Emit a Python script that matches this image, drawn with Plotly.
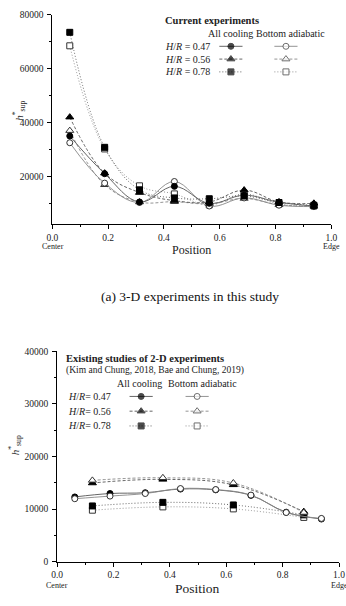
import plotly.graph_objects as go

W, H = 346, 606

# ---------------- data: 3-D experiments (top) ----------------
x3d = [0.0625, 0.1875, 0.3125, 0.4375, 0.5625, 0.6875, 0.8125, 0.9375]
ac_047 = [35000, 21000, 10500, 16300, 10000, 13000, 10400, 9000]
ac_056 = [42000, 21200, 14000, 11000, 10500, 14900, 10500, 10000]
ac_078 = [73500, 30800, 15000, 12000, 11700, 12700, 10300, 9300]
ba_047 = [32500, 17500, 10300, 18100, 9000, 12000, 9300, 8800]
ba_056 = [37000, 16900, 10500, 10600, 9800, 11800, 9500, 8900]
ba_078 = [68500, 30200, 16500, 13500, 9400, 13500, 9700, 9000]

# ---------------- data: 2-D experiments (bottom) ----------------
x2d_47 = [0.0625, 0.1875, 0.3125, 0.4375, 0.5625, 0.6875, 0.8125, 0.9375]
ac47_2d = [12300, 12950, 13100, 13800, 13650, 12600, 9400, 8100]
ba47_2d = [11960, 12460, 12950, 13890, 13700, 12650, 9340, 8220]
x2d_oth = [0.125, 0.375, 0.625, 0.875]
ac56_2d = [14950, 15640, 14600, 9500]
ba56_2d = [15450, 15940, 14950, 9340]
ac78_2d = [10590, 11270, 10780, 8900]
ba78_2d = [9780, 10410, 10030, 8410]

x_ticks = [0, 0.2, 0.4, 0.6, 0.8, 1.0]
x_ticktext = ["0.0", "0.2", "0.4", "0.6", "0.8", "1.0"]
y_ticks_top = [20000, 40000, 60000, 80000]
y_ticks_bot = [0, 10000, 20000, 30000, 40000]

SERIF = "Liberation Serif, Times New Roman, serif"
DASH = {"0.47": "solid", "0.56": "3px,2px", "0.78": "1px,2px"}
SYM = {"0.47": "circle", "0.56": "triangle-up", "0.78": "square"}
MSIZE = {"0.47": 6, "0.56": 7, "0.78": 6}
LC_FILL = "#555555"
LC_OPEN = "#888888"

def px(x):
    return x / W

def py(y):
    return 1 - y / H

fig = go.Figure()

def add_series(x, y, hr, filled, xa, ya):
    fig.add_trace(go.Scatter(
        x=x, y=y, mode="lines+markers", xaxis=xa, yaxis=ya,
        line=dict(color=LC_FILL if filled else LC_OPEN, width=0.9,
                  dash=DASH[hr], shape="spline", smoothing=1.1),
        marker=dict(symbol=SYM[hr], size=MSIZE[hr],
                    color="black" if filled else "white",
                    line=dict(color="black" if filled else "#333333", width=1)),
        showlegend=False, hoverinfo="skip"))

# top
add_series(x3d, ba_078, "0.78", False, "x", "y")
add_series(x3d, ba_056, "0.56", False, "x", "y")
add_series(x3d, ba_047, "0.47", False, "x", "y")
add_series(x3d, ac_078, "0.78", True, "x", "y")
add_series(x3d, ac_056, "0.56", True, "x", "y")
add_series(x3d, ac_047, "0.47", True, "x", "y")
# bottom
add_series(x2d_oth, ba78_2d, "0.78", False, "x2", "y2")
add_series(x2d_oth, ac78_2d, "0.78", True, "x2", "y2")
add_series(x2d_oth, ac56_2d, "0.56", True, "x2", "y2")
add_series(x2d_oth, ba56_2d, "0.56", False, "x2", "y2")
add_series(x2d_47, ac47_2d, "0.47", True, "x2", "y2")
add_series(x2d_47, ba47_2d, "0.47", False, "x2", "y2")

# ---------------- legend keys (layout decoration on a pixel overlay axis) ----------------
def legend_key(cx, cy, hr, filled, half=12):
    fig.add_trace(go.Scatter(
        x=[cx - half, cx, cx + half], y=[cy, cy, cy], mode="lines+markers",
        xaxis="x3", yaxis="y3",
        line=dict(color=LC_FILL if filled else LC_OPEN, width=0.9, dash=DASH[hr]),
        marker=dict(symbol=SYM[hr], size=[0, MSIZE[hr], 0],
                    color="black" if filled else "white",
                    line=dict(color="black" if filled else "#333333", width=[0, 1, 0])),
        showlegend=False, hoverinfo="skip"))

rows_top = [("0.47", 42), ("0.56", 55), ("0.78", 68)]
for hr, yy in rows_top:
    legend_key(233, yy, hr, True)
    legend_key(290, yy, hr, False)
rows_bot = [("0.47", 398), ("0.56", 413), ("0.78", 428)]
for hr, yy in rows_bot:
    legend_key(140, yy, hr, True)
    legend_key(198, yy, hr, False)

ann = []
def text(x, y, s, size=11, xanchor="left", bold=False, angle=0, color="#222222"):
    if bold:
        s = "<b>" + s + "</b>"
    ann.append(dict(x=px(x), y=py(y), xref="paper", yref="paper", text=s,
                    showarrow=False, xanchor=xanchor, yanchor="middle",
                    textangle=angle, font=dict(family=SERIF, size=size, color=color)))

# top legend text
text(163, 16, "Current experiments", 10.5, bold=True)
text(233, 29, "All cooling", 10, xanchor="center")
text(295, 29, "Bottom adiabatic", 10, xanchor="center")
for hr, yy in rows_top:
    text(163, yy, "<i>H</i>/<i>R</i> = " + hr, 10)
# bottom legend text
text(60, 359, "Existing studies of 2-D experiments", 10.5, bold=True)
text(60, 372, "(Kim and Chung, 2018, Bae and Chung, 2019)", 9.5)
text(138, 385, "All cooling", 10, xanchor="center")
text(204, 385, "Bottom adiabatic", 10, xanchor="center")
for hr, yy in rows_bot:
    text(62, yy, "<i>H</i>/<i>R</i>= " + hr, 10)

# axis extras
text(192, 249, "Position", 12, xanchor="center")
text(49, 246, "Center", 8, xanchor="center")
text(337, 246, "Edge", 8, xanchor="center")
text(191, 296, "(a) 3-D experiments in this study", 13.5, xanchor="center", color="#111111")
text(198, 593, "Position", 13.5, xanchor="center")
text(53, 590, "Center", 8, xanchor="center")
text(345, 590, "Edge", 8, xanchor="center")
text(14, 108, "<i>h</i><sup>*</sup><sub>sup</sub>", 11, xanchor="center", angle=-90)
text(9, 448, "<i>h</i><sup>*</sup><sub>sup</sub>", 11, xanchor="center", angle=-90)

axis_common = dict(showline=True, linecolor="black", linewidth=1, showgrid=False,
                   zeroline=False, ticks="outside", ticklen=4, tickwidth=1,
                   tickcolor="black", tickfont=dict(family=SERIF, size=9.5, color="#222222"))

fig.update_layout(
    width=W, height=H, margin=dict(l=0, r=0, t=0, b=0),
    paper_bgcolor="white", plot_bgcolor="rgba(0,0,0,0)",
    xaxis=dict(domain=[px(48), px(337)], range=[0, 1], anchor="y",
               tickvals=x_ticks, ticktext=x_ticktext,
               minor=dict(dtick=0.1, ticks="outside", ticklen=2, tickcolor="black"), **axis_common),
    yaxis=dict(domain=[py(223), py(10)], range=[2200, 80000], anchor="x",
               tickvals=y_ticks_top, tickformat="d", ticklabelstandoff=2,
               minor=dict(dtick=10000, tick0=0, ticks="outside", ticklen=2, tickcolor="black"),
               **axis_common),
    xaxis2=dict(domain=[px(53), px(345)], range=[0, 1], anchor="y2",
                tickvals=x_ticks, ticktext=x_ticktext,
                minor=dict(dtick=0.1, ticks="outside", ticklen=2, tickcolor="black"), **axis_common),
    yaxis2=dict(domain=[py(566), py(352)], range=[0, 40000], anchor="x2",
                tickvals=y_ticks_bot, tickformat="d", ticklabelstandoff=2,
                minor=dict(dtick=5000, tick0=0, ticks="outside", ticklen=2, tickcolor="black"),
                **axis_common),
    xaxis3=dict(domain=[0, 1], range=[0, W], visible=False, anchor="y3", fixedrange=True),
    yaxis3=dict(domain=[0, 1], range=[H, 0], visible=False, anchor="x3", fixedrange=True),
    annotations=ann,
)

fig.write_html("out.html")
